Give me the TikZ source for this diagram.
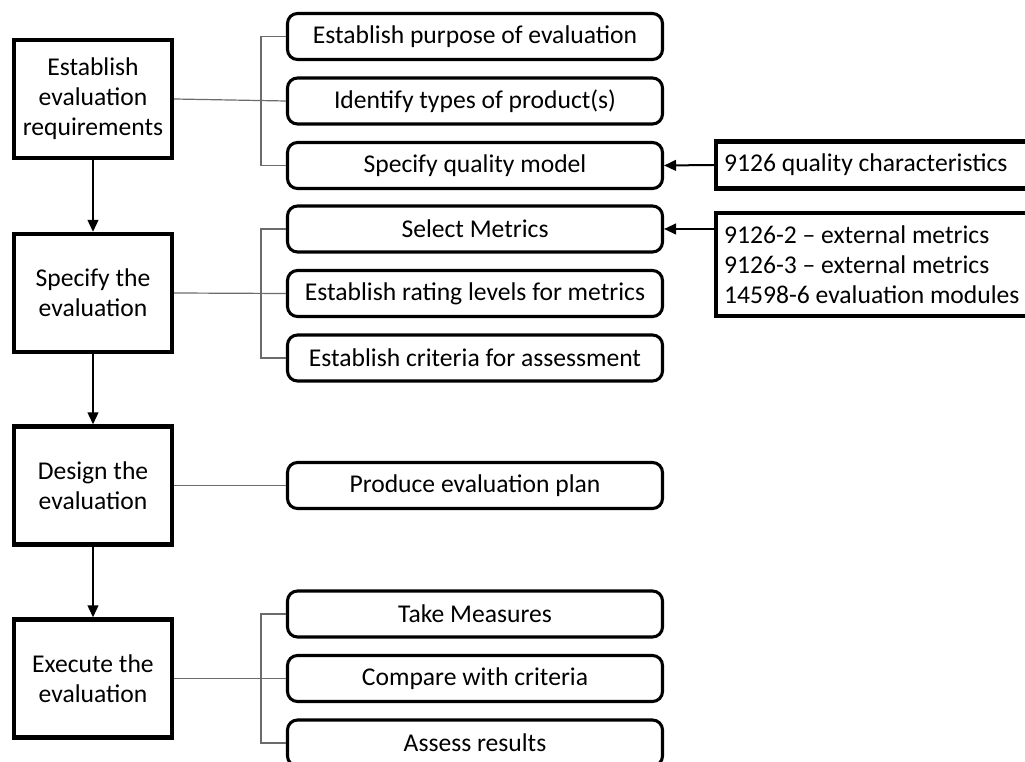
\documentclass[tikz,border=0pt]{standalone}
\usepackage{fontspec}
\setmainfont{Carlito}
\usetikzlibrary{arrows.meta}
\definecolor{linkgray}{gray}{0.42}
\begin{document}
\begin{tikzpicture}[x=0.75pt,y=-0.75pt,
  font=\fontsize{19.2pt}{22.5pt}\selectfont,
  phase/.style={draw,line width=3.2pt,minimum width=118.5pt,minimum height=88.5pt,
    align=center,inner sep=0pt},
  task/.style={draw,line width=2.3pt,rounded corners=7.5pt,minimum width=281.25pt,
    minimum height=34.5pt,inner sep=0pt},
  source/.style={draw,line width=3.2pt,anchor=west,align=flush left,text width=260pt,
    inner xsep=6pt,inner ysep=9.5pt},
  link/.style={linkgray,line width=0.9pt},
  flow/.style={line width=1.5pt,-{Triangle[length=9pt,width=8pt]}}]
\useasboundingbox (0,0) rectangle (1025,762);

% main phases
\node[phase] (p1) at (93,99)    {Establish\\evaluation\\requirements};
\node[phase] (p2) at (93,293)   {Specify the\\evaluation};
\node[phase] (p3) at (93,485.5) {Design the\\evaluation};
\node[phase] (p4) at (93,678.5) {Execute the\\evaluation};

\draw[flow] (p1) -- (p2);
\draw[flow] (p2) -- (p3);
\draw[flow] (p3) -- (p4);

% activities
\node[task] (t1)  at (475,36.5)  {Establish purpose of evaluation};
\node[task] (t2)  at (475,101)   {Identify types of product(s)};
\node[task] (t3)  at (475,165.5) {Specify quality model};
\node[task] (t4)  at (475,229)   {Select Metrics};
\node[task] (t5)  at (475,293.5) {Establish rating levels for metrics};
\node[task] (t6)  at (475,358)   {Establish criteria for assessment};
\node[task] (t7)  at (475,485.5) {Produce evaluation plan};
\node[task] (t8)  at (475,614)   {Take Measures};
\node[task] (t9)  at (475,678.5) {Compare with criteria};
\node[task] (t10) at (475,743)   {Assess results};

% brackets joining phases to their activities
\coordinate (b1) at (261,0);
\draw[link] (p1.east) -- (t2.west);
\draw[link] (t1.west) -- (t1.west -| b1) -- (t3.west -| b1) -- (t3.west);
\draw[link] (p2.east) -- (t5.west);
\draw[link] (t4.west) -- (t4.west -| b1) -- (t6.west -| b1) -- (t6.west);
\draw[link] (p3.east) -- (t7.west);
\draw[link] (p4.east) -- (t9.west);
\draw[link] (t8.west) -- (t8.west -| b1) -- (t10.west -| b1) -- (t10.west);

% reference standards
\node[source] (s1) at (714,165) {9126 quality characteristics};
\node[source] (s2) at (714,264.5) {9126-2 -- external metrics\\9126-3 -- external metrics\\14598-6 evaluation modules};

\draw[flow] (s1.west) -- (t3.east);
\draw[flow] (s2.west |- t4.east) -- (t4.east);
\end{tikzpicture}
\end{document}
